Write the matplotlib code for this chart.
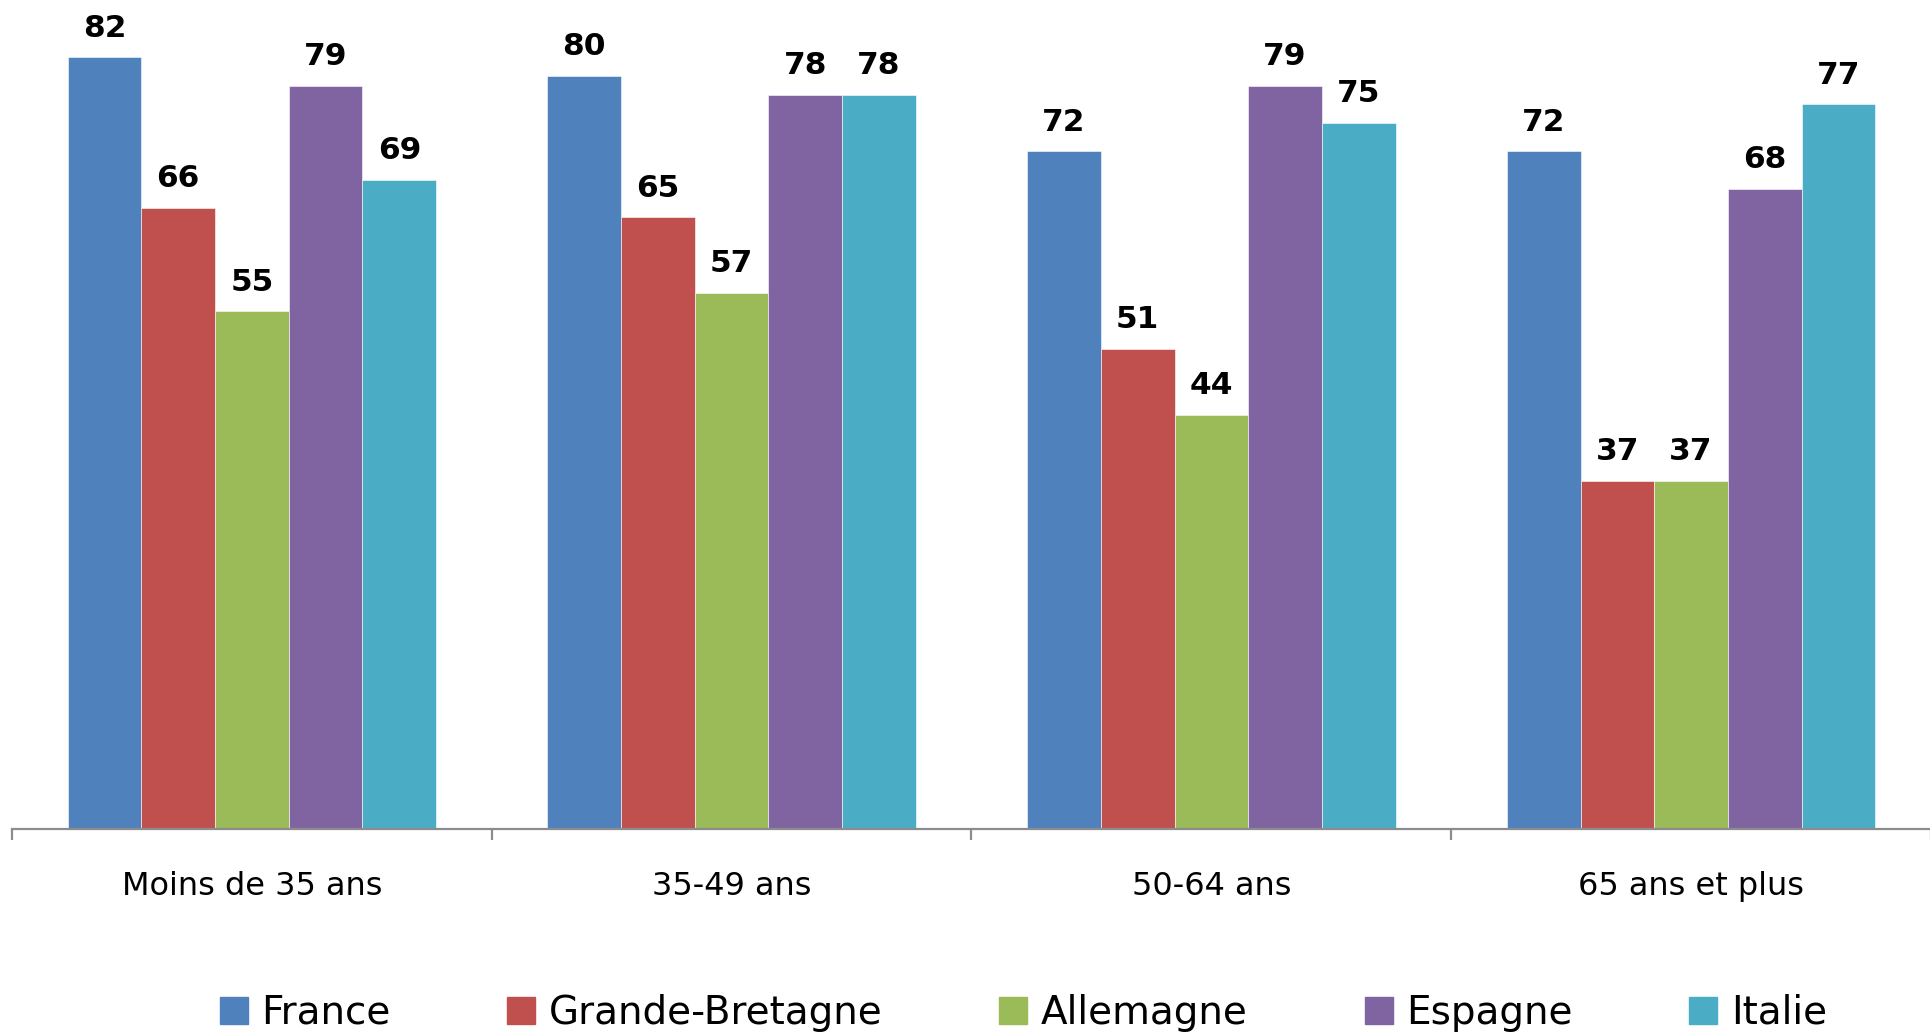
import matplotlib.pyplot as plt
import numpy as np

# tranches d'age et pays
groupes = ['Moins de 35 ans', '35-49 ans', '50-64 ans', '65 ans et plus']
pays = ['France', 'Grande-Bretagne', 'Allemagne', 'Espagne', 'Italie']
couleurs = ['#4F81BD', '#C0504D', '#9BBB59', '#8064A2', '#4BACC6']

france = [82, 80, 72, 72]
grande_bretagne = [66, 65, 51, 37]
allemagne = [55, 57, 44, 37]
espagne = [79, 78, 79, 68]
italie = [69, 78, 75, 77]
series = [france, grande_bretagne, allemagne, espagne, italie]

W, H = 1931, 1035
fig = plt.figure(figsize=(W / 100, H / 100), dpi=100)
ax = fig.add_axes([12 / W, 1 - 829 / H, (W - 12) / W, 829 / H])

x = np.arange(len(groupes))
larg = 0.1537
for i, (vals, c) in enumerate(zip(series, couleurs)):
    pos = x + (i - 2) * larg
    ax.bar(pos, vals, larg, color=c, edgecolor='white', linewidth=0.4)
    for p, v in zip(pos, vals):
        ax.annotate(str(v), (p, v), xytext=(0, 15), textcoords='offset points',
                    ha='center', va='baseline', fontsize=22.5, fontweight='bold')

ax.set_xlim(-0.5, -0.5 + (W - 12) / 483.7)
ax.set_ylim(0, 88.1)

for s in ['top', 'left', 'right']:
    ax.spines[s].set_visible(False)
ax.spines['bottom'].set_color('#8c8c8c')
ax.spines['bottom'].set_linewidth(1.6)
ax.set_yticks([])

ax.set_xticks(x)
ax.set_xticklabels(groupes, fontsize=23)
ax.tick_params(axis='x', which='major', length=0, pad=30)
ax.set_xticks(np.arange(-0.5, 4.0, 1.0), minor=True)
ax.tick_params(axis='x', which='minor', length=8, width=1.6, color='#8c8c8c', direction='out')

handles = [plt.Rectangle((0, 0), 1, 1, color=c) for c in couleurs]
fig.legend(handles, pays, loc='center', bbox_to_anchor=(0.53, 1 - 1013 / H), ncol=5,
           frameon=False, fontsize=28, handlelength=0.72, handleheight=0.7,
           handletextpad=0.35, columnspacing=3.0)

fig.savefig('out.png', dpi=100)
